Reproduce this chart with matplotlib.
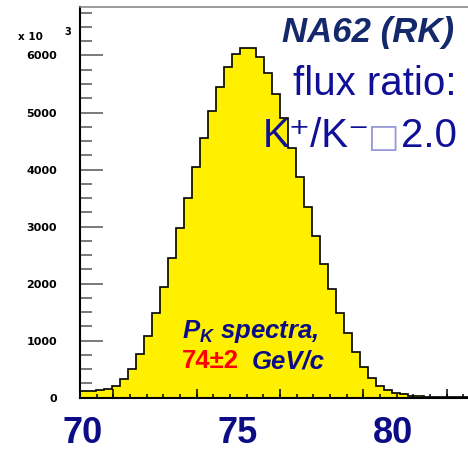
import numpy as np
import matplotlib
matplotlib.use("Agg")
import matplotlib.pyplot as plt
from matplotlib.ticker import MultipleLocator, FixedLocator

plt.rcParams["mathtext.fontset"] = "custom"
plt.rcParams["mathtext.rm"] = "Liberation Sans:bold:italic"
plt.rcParams["mathtext.it"] = "Liberation Sans:bold:italic"
plt.rcParams["mathtext.bf"] = "Liberation Sans:bold"

# kaon momentum spectrum, counts per bin (GeV/c)
x_start = 69.903
bin_width = 0.258
counts = [110, 120, 135, 158, 210, 323, 498, 761, 1088, 1491,
          1947, 2445, 2971, 3508, 4045, 4555, 5035, 5450, 5790, 6030,
          6130, 6130, 5970, 5700, 5322, 4911, 4374, 3866, 3340, 2836,
          2345, 1901, 1491, 1130, 807, 544, 351, 205, 135, 88,
          60, 35, 30, 21, 18, 12, 9, 7, 5]
x_labels = [70, 75, 80]
y_ticks = [0, 1000, 2000, 3000, 4000, 5000, 6000]

NAVY = "#0c0c86"
DARK_NAVY = "#14296c"
BLUE = "#0f0f98"

edges = x_start + bin_width * np.arange(len(counts) + 1)

fig = plt.figure(figsize=(4.68, 4.5), dpi=100)
ax = fig.add_axes([80 / 468, 1 - 397.7 / 450, 388 / 468, 390.7 / 450])

ax.stairs(counts, edges, fill=True, color="#fff000", baseline=0)
ax.stairs(counts, edges, color="black", linewidth=1.2, baseline=0)

ax.set_xlim(x_start, 82.42)
ax.set_ylim(0, 6850)

# ROOT-style axis ticks
ax.xaxis.set_major_locator(MultipleLocator(2.688, offset=70.978))
ax.xaxis.set_minor_locator(MultipleLocator(0.5376, offset=x_start))
ax.yaxis.set_major_locator(FixedLocator(y_ticks))
ax.yaxis.set_minor_locator(MultipleLocator(250))
ax.tick_params(axis="x", which="both", direction="in", labelbottom=False,
               color="black", width=1.1)
ax.tick_params(axis="x", which="major", length=6.5)
ax.tick_params(axis="x", which="minor", length=3.2)
ax.tick_params(axis="y", which="both", direction="in", color="#555555", width=1.1)
ax.tick_params(axis="y", which="major", length=16.5, pad=16.5)
ax.tick_params(axis="y", which="minor", length=8.6)
for lab in ax.get_yticklabels():
    lab.set_fontsize(8)
    lab.set_fontweight("heavy")
    lab.set_family("DejaVu Sans")

ax.spines["left"].set_linewidth(1.5)
ax.spines["bottom"].set_linewidth(1.5)
ax.spines["top"].set_color("#808080")
ax.spines["top"].set_linewidth(1.1)
ax.spines["right"].set_visible(False)

fig.text(18 / 468, 1 - 39.5 / 450, "x 10", fontsize=7.5, fontweight="heavy",
         family="DejaVu Sans")
fig.text(64 / 468, 1 - 35 / 450, "3", fontsize=7, fontweight="heavy",
         family="DejaVu Sans")

# large momentum labels under the axis
for v in x_labels:
    ax.text(v, -0.116, str(v), transform=ax.get_xaxis_transform(), ha="center",
            va="baseline", fontsize=26, fontweight="bold", color=NAVY,
            family="Liberation Sans", clip_on=False)

ax.text(0.964, 0.911, "NA62 (RK)", transform=ax.transAxes, ha="right",
        va="baseline", fontsize=25, fontweight="bold", fontstyle="italic",
        color=DARK_NAVY, family="Liberation Sans")
ax.text(0.971, 0.775, "flux ratio:", transform=ax.transAxes, ha="right",
        va="baseline", fontsize=29, color=BLUE, family="Liberation Sans")
ax.text(0.971, 0.642, "2.0", transform=ax.transAxes, ha="right",
        va="baseline", fontsize=29, color=BLUE, family="Liberation Sans")
ax.text((384 - 80) / 388, 0.642, "\u25a1", transform=ax.transAxes, ha="center",
        va="baseline", fontsize=24, color="#9a9ad8",
        family=["DejaVu Sans"])
ax.text((370 - 80) / 388, 0.642, "K\u207a/K\u207b", transform=ax.transAxes,
        ha="right", va="baseline", fontsize=29, color=BLUE,
        family=["Liberation Sans", "DejaVu Sans"])

ax.text((181.7 - 80) / 388, 0.153, r"$P_K$ spectra,", transform=ax.transAxes,
        ha="left", va="baseline", fontsize=18.5, fontweight="bold",
        fontstyle="italic", color=NAVY, family="Liberation Sans")
ax.text((181.7 - 80) / 388, 0.075, "74\u00b12", transform=ax.transAxes,
        ha="left", va="baseline", fontsize=18.5, fontweight="bold",
        color="#ff0000", family="Liberation Sans")
ax.text((251.7 - 80) / 388, 0.075, "GeV/c", transform=ax.transAxes,
        ha="left", va="baseline", fontsize=18.5, fontweight="bold",
        fontstyle="italic", color=NAVY, family="Liberation Sans")

fig.savefig("out.png", dpi=100)
